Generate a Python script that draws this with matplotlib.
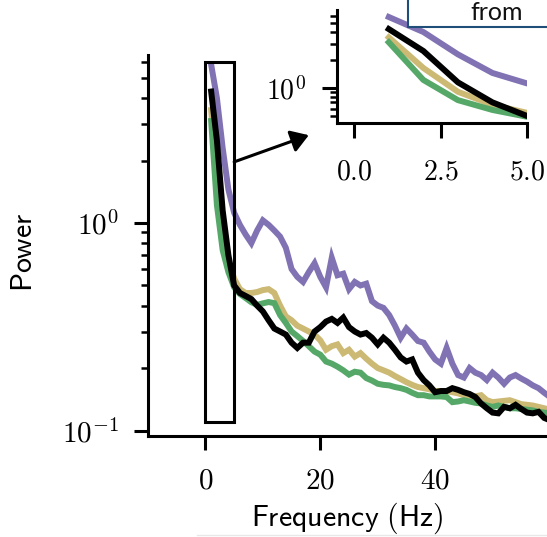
import matplotlib
matplotlib.use("Agg")
import matplotlib.pyplot as plt
from matplotlib.patches import Rectangle
from matplotlib.lines import Line2D
from matplotlib.ticker import FixedLocator, FuncFormatter, LogLocator, NullFormatter
import numpy as np

plt.rcParams["mathtext.fontset"] = "cm"

# Power spectra, one value per 1 Hz bin
freqs = list(range(1, 61))

power_purple = [5.8, 4.0, 2.3, 1.45, 1.12, 0.98, 0.88, 0.80, 0.92, 1.03,
                0.98, 0.92, 0.86, 0.76, 0.60, 0.55, 0.52, 0.58, 0.64, 0.55,
                0.49, 0.68, 0.56, 0.57, 0.48, 0.52, 0.50, 0.51, 0.42, 0.40,
                0.39, 0.36, 0.32, 0.28, 0.31, 0.29, 0.27, 0.265, 0.24, 0.22,
                0.21, 0.25, 0.21, 0.185, 0.18, 0.20, 0.19, 0.185, 0.175, 0.19,
                0.18, 0.168, 0.18, 0.185, 0.178, 0.172, 0.165, 0.16, 0.152, 0.145]

power_tan = [3.5, 1.64, 0.91, 0.66, 0.54, 0.48, 0.46, 0.46, 0.465, 0.475,
             0.48, 0.46, 0.40, 0.355, 0.34, 0.32, 0.31, 0.30, 0.29, 0.272,
             0.245, 0.255, 0.26, 0.236, 0.245, 0.227, 0.236, 0.222, 0.21, 0.20,
             0.195, 0.19, 0.183, 0.177, 0.171, 0.166, 0.162, 0.16, 0.158, 0.155,
             0.155, 0.155, 0.153, 0.151, 0.148, 0.144, 0.146, 0.148, 0.14, 0.137,
             0.138, 0.139, 0.14, 0.137, 0.134, 0.133, 0.132, 0.13, 0.128, 0.126]

power_green = [3.1, 1.22, 0.74, 0.58, 0.49, 0.455, 0.435, 0.415, 0.403, 0.41,
               0.416, 0.411, 0.36, 0.33, 0.30, 0.285, 0.27, 0.255, 0.24, 0.232,
               0.215, 0.21, 0.203, 0.195, 0.186, 0.192, 0.19, 0.179, 0.174, 0.168,
               0.166, 0.165, 0.162, 0.16, 0.157, 0.152, 0.148, 0.148, 0.146, 0.146,
               0.146, 0.145, 0.137, 0.138, 0.14, 0.138, 0.136, 0.135, 0.132, 0.13,
               0.132, 0.13, 0.128, 0.128, 0.127, 0.126, 0.125, 0.123, 0.122, 0.121]

power_black = [4.3, 2.5, 1.15, 0.70, 0.50, 0.46, 0.445, 0.43, 0.40, 0.375,
               0.34, 0.31, 0.30, 0.29, 0.265, 0.25, 0.265, 0.265, 0.30, 0.315,
               0.335, 0.345, 0.33, 0.35, 0.315, 0.30, 0.29, 0.295, 0.28, 0.26,
               0.28, 0.265, 0.245, 0.225, 0.215, 0.22, 0.19, 0.175, 0.165, 0.153,
               0.155, 0.155, 0.16, 0.157, 0.153, 0.15, 0.145, 0.135, 0.128, 0.122,
               0.121, 0.13, 0.128, 0.133, 0.127, 0.122, 0.121, 0.123, 0.115, 0.112]

series = [
    (power_purple, "#8172b3"),
    (power_tan, "#ccb974"),
    (power_green, "#55a868"),
    (power_black, "#000000"),
]

x_ticks = [0, 20, 40]
inset_x_ticks = [0.0, 2.5, 5.0]
zoom_band = (0, 5)          # Hz range shown in the inset
zoom_power = (0.11, 6.0)    # power range outlined by the box

W, H = 547, 537
fig = plt.figure(figsize=(W / 100, H / 100), dpi=100)


def style_axes(a, lw=2.2, major=10, minor=5, xpad=12, ypad=11, size=20):
    for side in ("top", "right"):
        a.spines[side].set_visible(False)
    for side in ("left", "bottom"):
        a.spines[side].set_linewidth(lw)
    a.tick_params(which="major", length=major, width=lw, labelsize=size)
    a.tick_params(which="minor", length=minor, width=1.8)
    a.tick_params(axis="x", which="major", pad=xpad)
    a.tick_params(axis="y", which="major", pad=ypad)
    a.set_facecolor("none")


def log_label(v, _):
    return r"$10^{%d}$" % int(round(np.log10(v)))


# Main axes
ax = fig.add_axes([148 / W, 1 - 436 / H, (550 - 148) / W, (436 - 55) / H])
for values, color in series:
    ax.plot(freqs, values, color=color, lw=4.3, solid_joinstyle="miter")
ax.set_yscale("log")
ax.set_xlim(-10, 60)
ax.set_ylim(0.0941, 6.45)
ax.xaxis.set_major_locator(FixedLocator(x_ticks))
ax.xaxis.set_major_formatter(FuncFormatter(lambda v, _: r"$%d$" % v))
ax.yaxis.set_major_locator(FixedLocator([0.1, 1.0]))
ax.yaxis.set_major_formatter(FuncFormatter(log_label))
ax.yaxis.set_minor_locator(LogLocator(subs=np.arange(2, 10)))
ax.yaxis.set_minor_formatter(NullFormatter())
style_axes(ax, xpad=12, ypad=11, size=21)

ax.add_patch(Rectangle((zoom_band[0], zoom_power[0]), zoom_band[1] - zoom_band[0],
                       zoom_power[1] - zoom_power[0], fill=False, ec="black",
                       lw=2.2, zorder=5))
ax.annotate("", xy=(18, 2.65), xytext=(zoom_band[1], 1.97),
            arrowprops=dict(arrowstyle="-|>,head_length=0.7,head_width=0.45",
                            lw=2.2, color="black", shrinkA=0, shrinkB=0,
                            mutation_scale=15))

# Inset zoom on the low-frequency band
axin = fig.add_axes([337 / W, 1 - 123 / H, (527 - 337) / W, (123 - 10) / H])
for values, color in series:
    axin.plot(freqs, values, color=color, lw=4.3)
axin.set_yscale("log")
axin.set_xlim(-0.5, zoom_band[1])
axin.set_ylim(0.42, 6.9)
axin.xaxis.set_major_locator(FixedLocator(inset_x_ticks))
axin.xaxis.set_major_formatter(FuncFormatter(lambda v, _: r"$%.1f$" % v))
axin.yaxis.set_major_locator(FixedLocator([1.0]))
axin.yaxis.set_major_formatter(FuncFormatter(log_label))
axin.yaxis.set_minor_locator(LogLocator(subs=np.arange(2, 10)))
axin.yaxis.set_minor_formatter(NullFormatter())
style_axes(axin, major=10.5, minor=5, xpad=14, ypad=12, size=20)

# Axis labels
fig.text(347 / W, 1 - 518 / H, r"$\mathsf{Frequency\ (Hz)}$", ha="center",
         va="center", fontsize=21.5)
fig.text(24 / W, 1 - 252 / H, r"$\mathsf{Power}$", ha="center", va="center",
         rotation=90, fontsize=21.5)

# Callout box at the top edge
fig.patches.append(Rectangle((408 / W, 1 - 27 / H), 200 / W, 60 / H,
                             transform=fig.transFigure, fc="white",
                             ec="#1f4e79", lw=1.5, zorder=10))
fig.text(470 / W, 1 - 20 / H, "from", family="Lato", fontsize=18,
         ha="left", va="baseline", color="#111111", zorder=11)

fig.lines.append(Line2D([197 / W, 1], [1 - 535 / H] * 2, transform=fig.transFigure,
                        color="#e8e8e8", lw=1))

fig.savefig("out.png", dpi=100)
